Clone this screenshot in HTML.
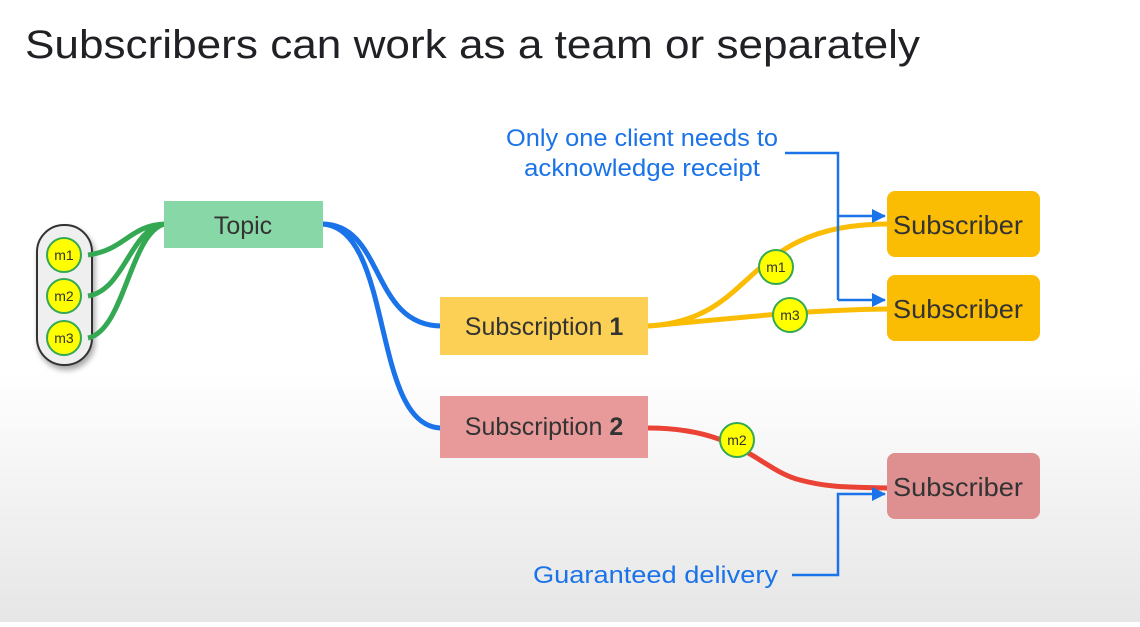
<!DOCTYPE html>
<html><head><meta charset="utf-8"><style>
html,body{margin:0;padding:0;}
body{width:1140px;height:622px;overflow:hidden;background:linear-gradient(#fff 0px,#fff 370px,#e6e6e6 622px);font-family:"Liberation Sans",sans-serif;}
</style></head><body>
<svg width="1140" height="622" xmlns="http://www.w3.org/2000/svg" font-family="Liberation Sans, sans-serif">
<defs>
<marker id="ar" markerWidth="14" markerHeight="14" refX="13" refY="7" orient="auto" markerUnits="userSpaceOnUse"><path d="M0,0 L14,7 L0,14 z" fill="#1a73e8"/></marker>
<filter id="sh" x="-30%" y="-10%" width="160%" height="130%"><feDropShadow dx="2" dy="4" stdDeviation="3" flood-opacity="0.35"/></filter>
</defs>
<text x="25" y="58" font-size="40" fill="#202124" textLength="895" lengthAdjust="spacingAndGlyphs">Subscribers can work as a team or separately</text>

<rect x="37" y="225" width="55" height="140" rx="27" fill="#efefef" stroke="#333" stroke-width="2" filter="url(#sh)"/>

<g fill="none" stroke="#34a853" stroke-width="5">
<path d="M88,255 C125,250 130,225 165,224"/>
<path d="M88,296 C125,290 130,228 165,224"/>
<path d="M88,338 C125,330 130,232 165,224"/>
</g>
<g fill="none" stroke="#1a73e8" stroke-width="5">
<path d="M322,224 C385,224 370,326 442,326"/>
<path d="M322,224 C395,228 370,428 442,428"/>
</g>
<g fill="none" stroke="#fbbc04" stroke-width="5">
<path d="M648,326 C760,320 740,224 888,224"/>
<path d="M648,326 C740,318 800,310 888,309"/>
</g>
<path d="M648,428 C740,428 760,470 800,480 C830,488 850,487 888,488" fill="none" stroke="#ea4335" stroke-width="5"/>

<g stroke="#34a853" stroke-width="2" fill="#ffff00" >
<circle cx="64" cy="255" r="17"/><circle cx="64" cy="296" r="17"/><circle cx="64" cy="338" r="17"/>
<circle cx="776" cy="267" r="17"/><circle cx="790" cy="315" r="17"/><circle cx="737" cy="440" r="17"/>
</g>
<g font-size="14" fill="#333" text-anchor="middle">
<text x="64" y="260">m1</text><text x="64" y="301">m2</text><text x="64" y="343">m3</text>
<text x="776" y="272">m1</text><text x="790" y="320">m3</text><text x="737" y="445">m2</text>
</g>

<rect x="164" y="201" width="159" height="47" fill="#87d8a6"/>
<text x="243" y="234" font-size="25" fill="#333" text-anchor="middle">Topic</text>
<rect x="440" y="297" width="208" height="58" fill="#fbd055"/>
<text x="544" y="335" font-size="25" fill="#333" text-anchor="middle">Subscription <tspan font-weight="bold">1</tspan></text>
<rect x="440" y="396" width="208" height="62" fill="#e89a9a"/>
<text x="544" y="435" font-size="25" fill="#333" text-anchor="middle">Subscription <tspan font-weight="bold">2</tspan></text>

<rect x="887" y="191" width="153" height="66" rx="8" fill="#fbbc04"/>
<text x="893" y="234" font-size="26" fill="#333" textLength="130" lengthAdjust="spacingAndGlyphs">Subscriber</text>
<rect x="887" y="275" width="153" height="66" rx="8" fill="#fbbc04"/>
<text x="893" y="318" font-size="26" fill="#333" textLength="130" lengthAdjust="spacingAndGlyphs">Subscriber</text>
<rect x="887" y="453" width="153" height="66" rx="8" fill="#de8f8f"/>
<text x="893" y="496" font-size="26" fill="#333" textLength="130" lengthAdjust="spacingAndGlyphs">Subscriber</text>

<text x="506" y="146" font-size="24" fill="#1a73e8" textLength="272" lengthAdjust="spacingAndGlyphs">Only one client needs to</text>
<text x="524" y="176" font-size="24" fill="#1a73e8" textLength="236" lengthAdjust="spacingAndGlyphs">acknowledge receipt</text>
<g fill="none" stroke="#1a73e8" stroke-width="2.5">
<path d="M785,153 H838 V300"/>
<path d="M838,216 H885" marker-end="url(#ar)"/>
<path d="M838,300 H885" marker-end="url(#ar)"/>
<path d="M792,575 H838 V494 H885" marker-end="url(#ar)"/>
</g>
<text x="533" y="583" font-size="24" fill="#1a73e8" textLength="245" lengthAdjust="spacingAndGlyphs">Guaranteed delivery</text>
</svg>
</body></html>
